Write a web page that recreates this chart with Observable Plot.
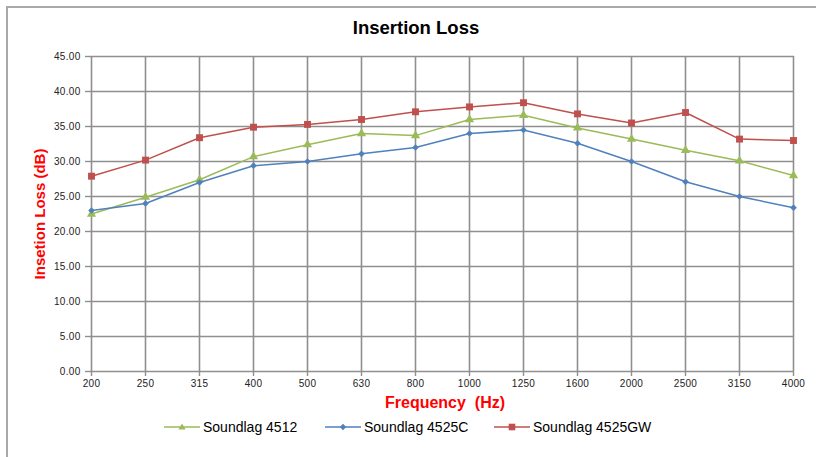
<!DOCTYPE html>
<html>
<head>
<meta charset="utf-8">
<script src="https://cdn.jsdelivr.net/npm/d3@7"></script>
<script src="https://cdn.jsdelivr.net/npm/@observablehq/plot@0.6"></script>
<style>
  html, body { margin: 0; padding: 0; background: #fff; }
  #wrap { position: relative; width: 816px; height: 457px; overflow: hidden; background: #fff;
          font-family: "Liberation Sans", Arial, Helvetica, sans-serif; }
  #frame { position: absolute; left: 6px; top: 6px; width: 900px; height: 600px; border: 2px solid #a9a9a9; }
  #title { position: absolute; top: 28px; left: 416px; transform: translate(-50%, -50%); font-weight: bold; font-size: 18.5px; color: #000; white-space: nowrap; }
  #chart { position: absolute; left: 0; top: 0; }
  .axlabel { position: absolute; color: #ff0000; font-weight: bold; font-size: 15px; white-space: pre; }
  #ylabel { left: 39px; top: 214px; transform: translate(-50%, -50%) rotate(-90deg); }
  #xlabel { left: 445px; top: 403px; transform: translate(-50%, -50%); font-size: 16px; }
  #legend { position: absolute; top: 418px; left: 0; width: 816px; height: 18px; font-size: 14px; color: #000; }
  .item { position: absolute; top: 0; display: flex; align-items: center; height: 18px; }
  .item svg { margin-right: 3px; }
</style>
</head>
<body>
<div id="wrap">
  <div id="frame"></div>
  <div id="title">Insertion Loss</div>
  <div id="chart"></div>
  <div id="ylabel" class="axlabel">Insetion Loss (dB)</div>
  <div id="xlabel" class="axlabel">Frequency  (Hz)</div>
  <div id="legend"></div>
</div>
<script>
const frequencies = ["200","250","315","400","500","630","800","1000","1250","1600","2000","2500","3150","4000"];
const soundlag4512   = [22.5, 24.9, 27.4, 30.7, 32.4, 34.0, 33.7, 36.0, 36.6, 34.8, 33.2, 31.6, 30.1, 28.0];
const soundlag4525C  = [23.0, 24.0, 27.0, 29.4, 30.0, 31.1, 32.0, 34.0, 34.5, 32.6, 30.0, 27.1, 25.0, 23.4];
const soundlag4525GW = [27.9, 30.2, 33.4, 34.9, 35.3, 36.0, 37.1, 37.8, 38.4, 36.8, 35.5, 37.0, 33.2, 33.0];
const seriesNames  = ["Soundlag 4512", "Soundlag 4525C", "Soundlag 4525GW"];
const seriesColors = ["#9bbb59", "#4f81bd", "#c0504d"];
const seriesSymbols = ["triangle", "diamond2", "square"];
const seriesR = [3.4, 3.0, 3.9];
const yTicks = [0, 5, 10, 15, 20, 25, 30, 35, 40, 45];

const allSeries = [soundlag4512, soundlag4525C, soundlag4525GW];
const rows = [];
allSeries.forEach((vals, s) => vals.forEach((v, i) => rows.push({freq: frequencies[i], value: v, series: seriesNames[s], s})));

const gridColor = "#8f8f8f";
const marks = [
  Plot.ruleY(yTicks, {y: d => d, stroke: gridColor, strokeWidth: 1.4, strokeOpacity: 1}),
  Plot.ruleX(frequencies, {x: d => d, y1: 0, y2: 45, stroke: gridColor, strokeWidth: 1.6, strokeOpacity: 1}),
  Plot.axisY({ticks: yTicks, tickFormat: d3.format(".2f"), tickSize: 5, tickPadding: 5, label: null,
               stroke: gridColor, strokeWidth: 1.4, fontSize: 10, fill: "#222"}),
  Plot.axisX({tickSize: 5, tickPadding: 3, label: null, stroke: gridColor, strokeWidth: 1.4, fontSize: 10, fill: "#222"})
];
allSeries.forEach((vals, s) => {
  const data = rows.filter(r => r.s === s);
  marks.push(Plot.line(data, {x: "freq", y: "value", stroke: seriesColors[s], strokeWidth: 1.5}));
  marks.push(Plot.dot(data, {x: "freq", y: "value", symbol: seriesSymbols[s], r: seriesR[s], fill: seriesColors[s], stroke: "none"}));
});

const chart = Plot.plot({
  width: 816,
  height: 400,
  marginLeft: 90,
  marginRight: 22,
  marginTop: 56,
  marginBottom: 29,
  style: {fontFamily: "'Liberation Sans', Arial, sans-serif", background: "transparent", letterSpacing: "0.3px"},
  x: {type: "point", domain: frequencies, padding: 0},
  y: {domain: [0, 45]},
  marks
});
document.getElementById("chart").appendChild(chart);

// legend
const legend = document.getElementById("legend");
const starts = [164, 325, 494];
const symbolPaths = {
  triangle: "M0,-3.6L3.6,2.6L-3.6,2.6Z",
  diamond2: "M0,-3.2L3.2,0L0,3.2L-3.2,0Z",
  square: "M-3.3,-3.3H3.3V3.3H-3.3Z"
};
seriesNames.forEach((name, s) => {
  const item = document.createElement("div");
  item.className = "item";
  item.style.left = starts[s] + "px";
  item.innerHTML = `<svg width="36" height="12" viewBox="0 0 36 12"><line x1="0" y1="6" x2="36" y2="6" stroke="${seriesColors[s]}" stroke-width="1.5"/><path transform="translate(18,6)" d="${symbolPaths[seriesSymbols[s]]}" fill="${seriesColors[s]}"/></svg><span>${name}</span>`;
  legend.appendChild(item);
});
</script>
</body>
</html>
